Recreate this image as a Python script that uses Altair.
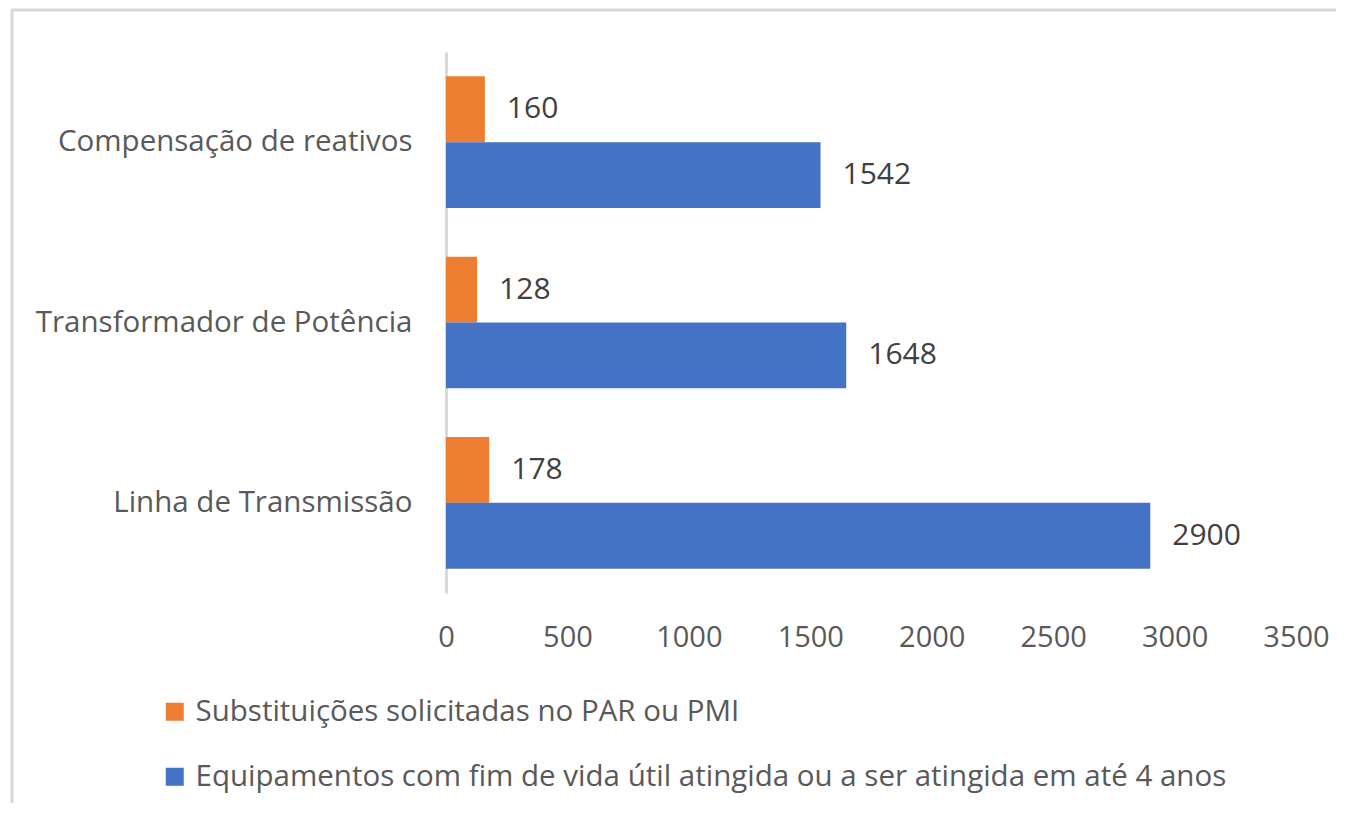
import altair as alt
import pandas as pd

categories = ["Compensação de reativos", "Transformador de Potência", "Linha de Transmissão"]
series = [
    "Substituições solicitadas no PAR ou PMI",
    "Equipamentos com fim de vida útil atingida ou a ser atingida em até 4 anos",
]
orange_vals = [160, 128, 178]
blue_vals = [1542, 1648, 2900]
colors = ["#ED7D31", "#4472C4"]
x_ticks = [0, 500, 1000, 1500, 2000, 2500, 3000, 3500]

rows = []
for c, v in zip(categories, orange_vals):
    rows.append({"cat": c, "serie": series[0], "valor": v})
for c, v in zip(categories, blue_vals):
    rows.append({"cat": c, "serie": series[1], "valor": v})
df = pd.DataFrame(rows)

FONT = "Open Sans"
W, H = 850, 541
PAD = {"left": 438, "top": 44, "right": 40, "bottom": 210}

base = alt.Chart(df).encode(
    y=alt.Y(
        "cat:N",
        sort=categories,
        scale=alt.Scale(paddingInner=0.27, paddingOuter=0.135),
        axis=alt.Axis(
            title=None,
            domain=True,
            domainColor="#D9D9D9",
            domainWidth=3,
            ticks=False,
            labelPadding=34,
            labelFont=FONT,
            labelFontSize=29.5,
            labelColor="#595959",
            labelLimit=600,
        ),
    ),
    yOffset=alt.YOffset("serie:N", sort=series, scale=alt.Scale(domain=series, paddingInner=0, paddingOuter=0)),
)

bars = base.mark_bar().encode(
    x=alt.X(
        "valor:Q",
        scale=alt.Scale(domain=[0, 3500], nice=False),
        axis=alt.Axis(
            title=None,
            values=x_ticks,
            format="d",
            grid=False,
            domain=False,
            ticks=False,
            labelPadding=30,
            labelFont=FONT,
            labelFontSize=29,
            labelColor="#595959",
            labelFlush=False,
        ),
    ),
    color=alt.Color(
        "serie:N",
        sort=series,
        scale=alt.Scale(domain=series, range=colors),
        legend=alt.Legend(
            title=None,
            orient="none",
            legendX=-286,
            legendY=645,
            direction="vertical",
            symbolType="square",
            symbolSize=324,
            symbolStrokeWidth=0,
            labelFont=FONT,
            labelFontSize=29.5,
            labelColor="#595959",
            labelOffset=6,
            labelLimit=1200,
            rowPadding=34,
            padding=0,
        ),
    ),
)

labels = base.mark_text(
    align="left", baseline="middle", dx=22, font=FONT, fontSize=30, color="#404040"
).encode(
    x=alt.X("valor:Q"),
    text=alt.Text("valor:Q"),
)

frame_df = pd.DataFrame({"d": [0]})
right_edge = W + PAD["right"]
bottom_edge = H + PAD["bottom"]
border_top = alt.Chart(frame_df).mark_rule(color="#D9D9D9", strokeWidth=3).encode(
    x=alt.value(-435),
    x2=alt.value(right_edge),
    y=alt.value(-42),
)
border_left = alt.Chart(frame_df).mark_rule(color="#D9D9D9", strokeWidth=3).encode(
    x=alt.value(-434),
    y=alt.value(-43),
    y2=alt.value(bottom_edge),
)

chart = alt.layer(border_top, border_left, bars, labels).properties(
    width=W,
    height=H,
    autosize=alt.AutoSizeParams(type="none"),
    padding=PAD,
).configure(background="white").configure_view(strokeWidth=0, stroke="transparent")

chart.save("out.html", embed_options={"renderer": "svg", "actions": False})
